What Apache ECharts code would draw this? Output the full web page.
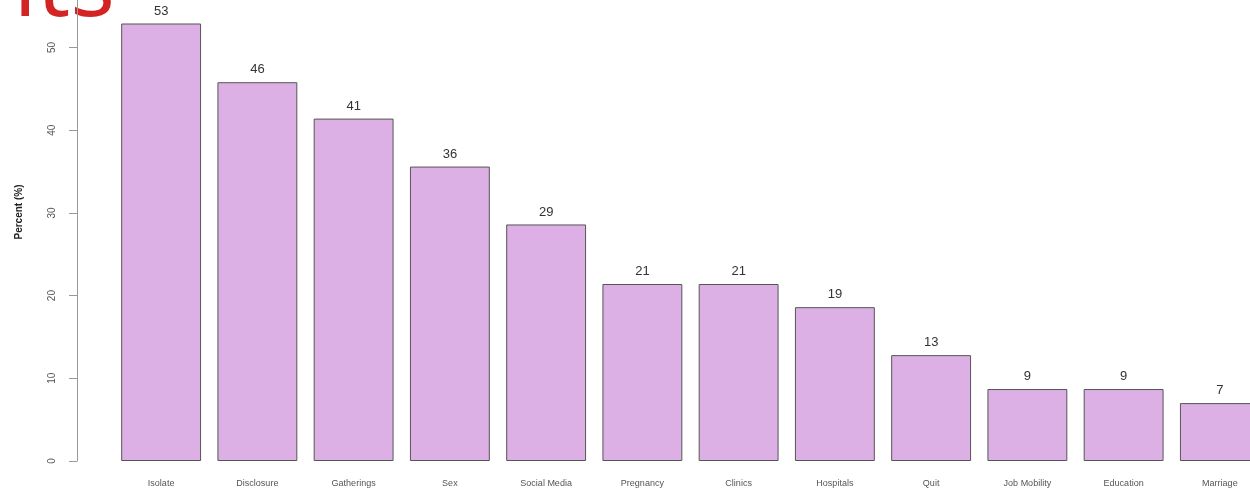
<!DOCTYPE html>
<html>
<head>
<meta charset="utf-8">
<script src="https://cdn.jsdelivr.net/npm/echarts@6/dist/echarts.min.js"></script>
<style>html,body{margin:0;padding:0;background:#fff;overflow:hidden;width:1250px;height:490px}#c{width:1270px;height:490px}</style>
</head>
<body>
<div id="c"></div>
<script>
const categories = ['Isolate','Disclosure','Gatherings','Sex','Social Media','Pregnancy','Clinics','Hospitals','Quit','Job Mobility','Education','Marriage'];
const percentValues = [52.9, 45.8, 41.4, 35.6, 28.6, 21.4, 21.4, 18.6, 12.8, 8.7, 8.7, 7.0];
const yTicks = [0, 10, 20, 30, 40, 50];

const chart = echarts.init(document.getElementById('c'), null, {renderer: 'canvas'});
chart.setOption({
  animation: false,
  backgroundColor: '#ffffff',
  grid: {left: 113, top: 0, right: 2, bottom: 29, containLabel: false},
  xAxis: {
    type: 'category',
    data: categories,
    axisLine: {show: false},
    axisTick: {show: false},
    axisLabel: {color: '#555', fontSize: 9, fontFamily: 'Liberation Sans', margin: 18, interval: 0}
  },
  yAxis: {
    type: 'value',
    min: 0,
    max: 55.74,
    offset: 36,
    splitLine: {show: false},
    axisLine: {show: true, lineStyle: {color: '#999', width: 1}},
    axisTick: {show: true, length: 8, customValues: yTicks, lineStyle: {color: '#999'}},
    axisLabel: {show: true, customValues: yTicks, rotate: 90, color: '#555', fontSize: 10, fontFamily: 'Liberation Sans', margin: 20}
  },
  series: [{
    type: 'bar',
    data: percentValues,
    barCategoryGap: '17%',
    itemStyle: {color: '#DCB0E4', borderColor: '#555', borderWidth: 1},
    label: {show: true, position: 'top', distance: 6, color: '#333', fontSize: 13, fontFamily: 'Liberation Sans',
      formatter: p => Math.round(p.value)}
  }],
  graphic: [
    {type: 'text', x: 19, y: 212, rotation: Math.PI / 2, style: {text: 'Percent (%)', fill: '#222', font: 'bold 10px Liberation Sans', textAlign: 'center', textVerticalAlign: 'middle'}},
    {type: 'text', x: 115, y: 36, style: {text: 'nts', fill: '#D42323', font: '400 94px Open Sans', textAlign: 'right', textVerticalAlign: 'bottom'}}
  ]
});
</script>
</body>
</html>
